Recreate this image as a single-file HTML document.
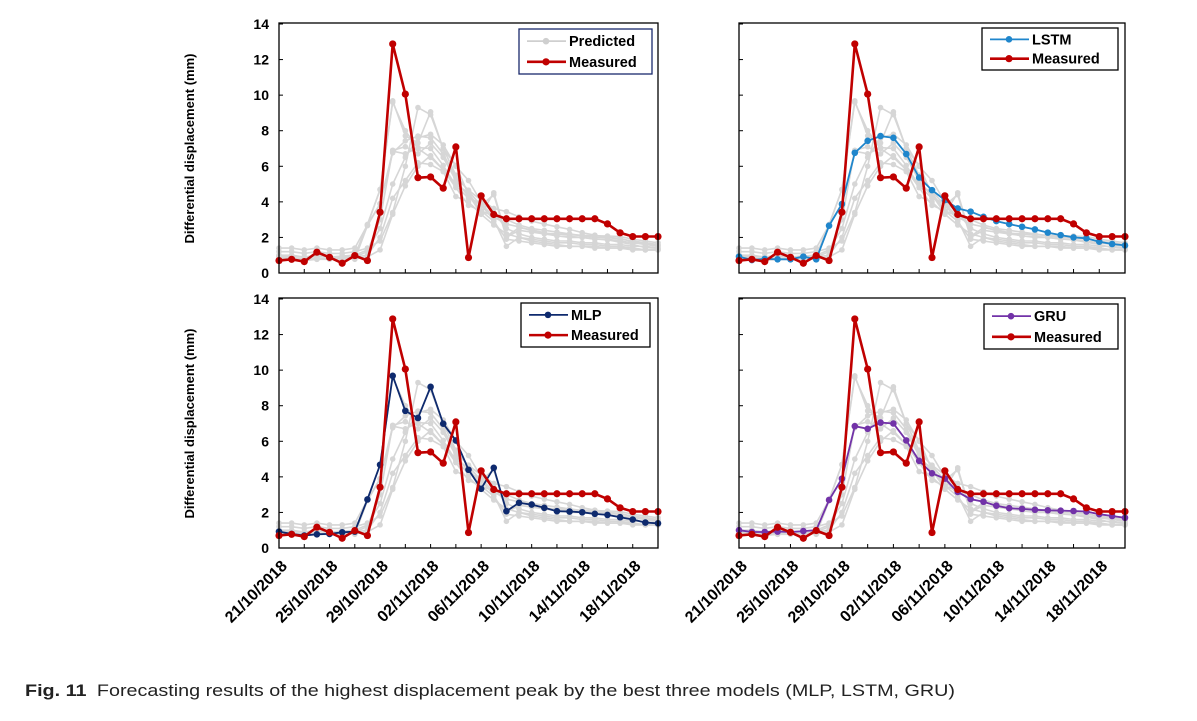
<!DOCTYPE html>
<html><head><meta charset="utf-8"><style>
body{margin:0;background:#fff;width:1197px;height:716px;overflow:hidden;font-family:"Liberation Sans",sans-serif}
</style></head><body>
<svg id="fig" width="1197" height="716" xmlns="http://www.w3.org/2000/svg" font-family="Liberation Sans, sans-serif">
<text x="25" y="696" font-size="17" fill="#222" textLength="930" lengthAdjust="spacingAndGlyphs"><tspan font-weight="bold">Fig. 11</tspan><tspan dx="9">Forecasting results of the highest displacement peak by the best three models (MLP, LSTM, GRU)</tspan></text>
</svg>
<script>
const dates=["21/10/2018","25/10/2018","29/10/2018","02/11/2018","06/11/2018","10/11/2018","14/11/2018","18/11/2018"];
const yTicks=[0,2,4,6,8,10,12,14];
const measured=[0.7,0.77,0.64,1.17,0.88,0.55,0.98,0.7,3.42,12.88,10.06,5.36,5.4,4.77,7.09,0.87,4.34,3.29,3.05,3.05,3.05,3.05,3.05,3.05,3.05,3.05,2.76,2.26,2.05,2.05,2.05];
const mlp=[0.92,0.79,0.7,0.77,0.79,0.88,0.92,2.73,4.68,9.68,7.71,7.31,9.06,6.99,6.05,4.4,3.33,4.51,2.07,2.54,2.44,2.26,2.07,2.05,2.01,1.92,1.86,1.73,1.6,1.43,1.39];
const lstm=[0.92,0.73,0.79,0.77,0.77,0.92,0.77,2.66,3.88,6.76,7.43,7.7,7.6,6.69,5.37,4.66,4.1,3.63,3.45,3.16,2.92,2.75,2.6,2.45,2.27,2.13,2.0,1.95,1.76,1.63,1.55];
const gru=[1.0,0.9,0.9,0.92,0.9,0.95,1.0,2.7,3.9,6.85,6.7,7.05,7.0,6.05,4.9,4.2,3.9,3.15,2.75,2.6,2.38,2.24,2.2,2.15,2.12,2.1,2.08,2.05,1.9,1.8,1.7];
const g1=[1.4,1.4,1.3,1.4,1.3,1.3,1.4,2.7,4.7,9.6,8.0,7.0,6.5,5.8,5.0,4.5,3.5,3.2,3.0,2.7,2.5,2.4,2.3,2.2,2.1,2.0,2.0,1.9,1.8,1.7,1.6];
const g2=[1.2,1.2,1.1,1.2,1.1,1.1,1.2,1.4,1.8,3.4,6.0,9.3,8.9,7.0,5.5,4.6,3.8,4.4,2.0,2.4,2.3,2.2,2.1,2.0,2.0,1.9,1.9,1.8,1.7,1.6,1.5];
const g3=[1.0,1.0,0.9,1.0,0.9,0.9,1.0,1.3,2.5,5.0,6.5,7.6,7.8,7.2,6.0,5.2,4.0,3.4,2.5,2.2,2.0,1.9,1.8,1.8,1.7,1.7,1.6,1.6,1.5,1.5,1.4];
const g4=[0.9,0.9,0.9,0.9,0.9,0.9,0.9,1.2,3.0,6.9,7.1,6.7,7.3,6.5,5.2,4.3,3.8,3.0,1.5,2.0,1.9,1.8,1.7,1.7,1.6,1.6,1.5,1.5,1.4,1.3,1.3];
const g5=[0.8,0.8,0.8,0.8,0.8,0.8,0.9,1.0,2.0,4.2,5.2,6.2,6.1,5.7,4.3,4.0,3.3,2.7,2.2,2.0,1.8,1.7,1.6,1.5,1.5,1.5,1.4,1.4,1.4,1.3,1.3];
const g6=[0.8,0.8,0.8,0.8,0.8,0.8,0.8,0.9,1.3,3.3,4.9,6.0,6.6,5.8,4.8,3.8,3.5,2.9,1.9,1.8,1.7,1.6,1.5,1.5,1.5,1.4,1.4,1.4,1.3,1.3,1.3];
const grays=[g1,g2,g3,g4,g5,g6,mlp,lstm,gru];

const NS="http://www.w3.org/2000/svg";
const svg=document.getElementById('fig');
function mk(tag,attrs,parent){const e=document.createElementNS(NS,tag);for(const k in attrs)e.setAttribute(k,attrs[k]);(parent||svg).appendChild(e);return e;}

const panels=[
 {id:'top-left',x0:279,x1:658,y0:24,y1:273,main:null,label:'Predicted',color:'#cfcfcf',leg:[519,29,133,45],legBorder:'#1a2a6c',yl:true,xl:false},
 {id:'top-right',x0:739,x1:1125,y0:24,y1:273,main:lstm,label:'LSTM',color:'#1f86cc',leg:[982,28,136,42],legBorder:'#000',yl:false,xl:false},
 {id:'bottom-left',x0:279,x1:658,y0:299,y1:548,main:mlp,label:'MLP',color:'#0e2a6e',leg:[521,303,129,44],legBorder:'#000',yl:true,xl:true},
 {id:'bottom-right',x0:739,x1:1125,y0:299,y1:548,main:gru,label:'GRU',color:'#7232a8',leg:[984,304,134,45],legBorder:'#000',yl:false,xl:true}
];
panels.forEach(p=>{
 const g=mk('g',{});
 
 
 const n=measured.length;
 const sx=i=>p.x0+(p.x1-p.x0)*i/(n-1);
 const sy=v=>p.y1-(p.y1-p.y0)*v/14;
 const pts=a=>a.map((v,i)=>sx(i).toFixed(1)+','+sy(v).toFixed(1)).join(' ');
 grays.forEach((s,k)=>{
  const l=mk('polyline',{points:pts(s),fill:'none',stroke:'#d6d6d6','stroke-width':1.6},g);
  
  
  s.forEach((v,i)=>{const c=mk('circle',{cx:sx(i),cy:sy(v),r:2.8,fill:'#d6d6d6'},g);});
 });
 function series(a,col,w,r,name){
  const l=mk('polyline',{points:pts(a),fill:'none',stroke:col,'stroke-width':w},g);
  
  
  a.forEach((v,i)=>{const c=mk('circle',{cx:sx(i),cy:sy(v),r:r,fill:col},g);});
 }
 if(p.main) series(p.main,p.color,1.8,3.3,p.label.toLowerCase());
 series(measured,'#c00000',2.6,3.6,'measured');
 const f=mk('rect',{x:p.x0,y:p.y0-1,width:p.x1-p.x0,height:p.y1-p.y0+1,fill:'none',stroke:'#000','stroke-width':1.3},g);
 
 
 for(let i=0;i<n;i+=2){const t=mk('line',{x1:sx(i),x2:sx(i),y1:p.y1,y2:p.y1-4,stroke:'#000','stroke-width':1},g);}
 yTicks.forEach(v=>{
  const t=mk('line',{x1:p.x0,x2:p.x0+4,y1:sy(v),y2:sy(v),stroke:'#000','stroke-width':1},g);
  
  if(p.yl){const tx=mk('text',{x:p.x0-10,y:sy(v)+5,'text-anchor':'end','font-size':14,'font-weight':'bold',fill:'#000'},g);tx.textContent=v;}
 });
 if(p.yl){const cy=(p.y0+p.y1)/2;const t=mk('text',{x:0,y:0,transform:`translate(194,${cy}) rotate(-90)`,'text-anchor':'middle','font-size':13,'font-weight':'bold',fill:'#000'},g);t.textContent='Differential displacement (mm)';}
 if(p.xl){dates.forEach((d,k)=>{const x=sx(k*4)+9,y=p.y1+19;const t=mk('text',{x:0,y:0,transform:`translate(${x},${y}) rotate(-45)`,'text-anchor':'end','font-size':16,'font-weight':'bold',fill:'#000'},g);t.textContent=d;});}
 const [lx,ly,lw,lh]=p.leg;
 const lg=mk('g',{},g);
 
 
 mk('rect',{x:lx,y:ly,width:lw,height:lh,fill:'#fff',stroke:p.legBorder,'stroke-width':1.3},lg);
 const r1=ly+lh*0.27,r2=ly+lh*0.73;
 mk('line',{x1:lx+8,x2:lx+47,y1:r1,y2:r1,stroke:p.color,'stroke-width':1.8},lg);
 mk('circle',{cx:lx+27,cy:r1,r:3.3,fill:p.color},lg);
 mk('line',{x1:lx+8,x2:lx+47,y1:r2,y2:r2,stroke:'#c00000','stroke-width':2.6},lg);
 mk('circle',{cx:lx+27,cy:r2,r:3.6,fill:'#c00000'},lg);
 const t1=mk('text',{x:lx+50,y:r1+5,'font-size':14.5,'font-weight':'bold',fill:'#000'},lg);t1.textContent=p.label;
 
 const t2=mk('text',{x:lx+50,y:r2+5,'font-size':14.5,'font-weight':'bold',fill:'#000'},lg);t2.textContent='Measured';
 
});
</script>
</body></html>
